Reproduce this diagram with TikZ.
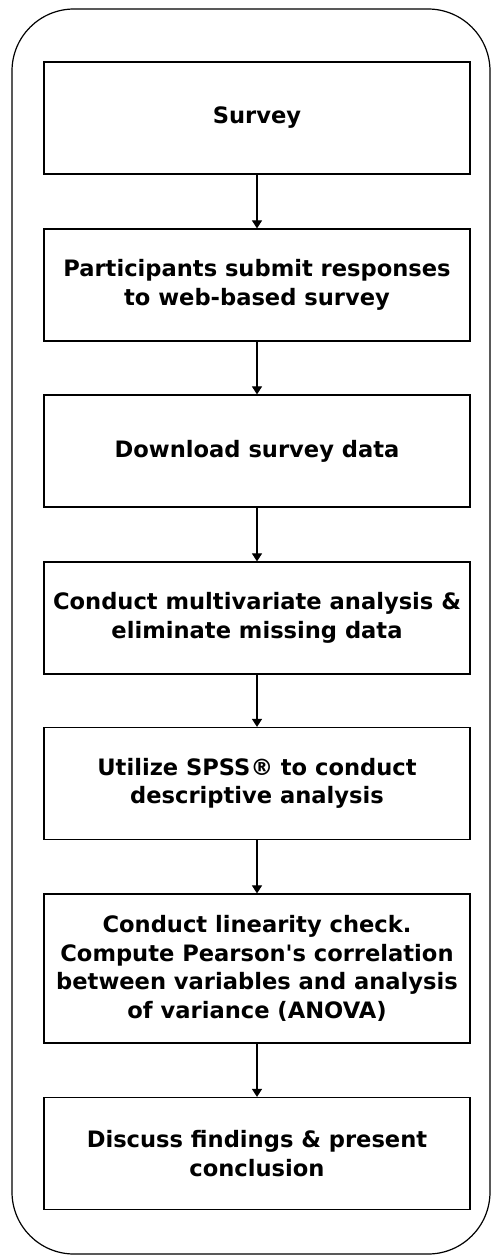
\documentclass[tikz,border=0pt]{standalone}
\usepackage{fontspec}
\setmainfont{DejaVu Sans}
\usetikzlibrary{arrows.meta}
\begin{document}
\begin{tikzpicture}[x=1pt,y=-1pt,
  stepbox/.style={draw=black,line width=1.2pt,minimum width=426pt,minimum height=112pt,
    align=center,font=\bfseries\fontsize{22.6}{28.5}\selectfont,inner sep=0pt},
  conn/.style={line width=1.1pt,-{Triangle[length=8pt,width=10pt]}}]
\useasboundingbox (0,0) rectangle (493,1258);
\draw[line width=1.2pt,rounded corners=62pt] (12,9) rectangle (490,1254);
\node[stepbox] (s1) at (257,118) {Survey};
\node[stepbox] (s2) at (257,285) {Participants submit responses\\to web-based survey};
\node[stepbox] (s3) at (257,451) {Download survey data};
\node[stepbox] (s4) at (257,618) {Conduct multivariate analysis \&\\eliminate missing data};
\node[stepbox] (s5) at (257,783.5) {Utilize SPSS® to conduct\\descriptive analysis};
\node[stepbox,minimum height=149pt] (s6) at (257,968.5) {Conduct linearity check.\\Compute Pearson\textquotesingle s correlation\\between variables and analysis\\of variance (ANOVA)};
\node[stepbox] (s7) at (257,1153.5) {Discuss findings \& present\\conclusion};
\draw[conn] (s1) -- (s2);
\draw[conn] (s2) -- (s3);
\draw[conn] (s3) -- (s4);
\draw[conn] (s4) -- (s5);
\draw[conn] (s5) -- (s6);
\draw[conn] (s6) -- (s7);
\end{tikzpicture}
\end{document}
